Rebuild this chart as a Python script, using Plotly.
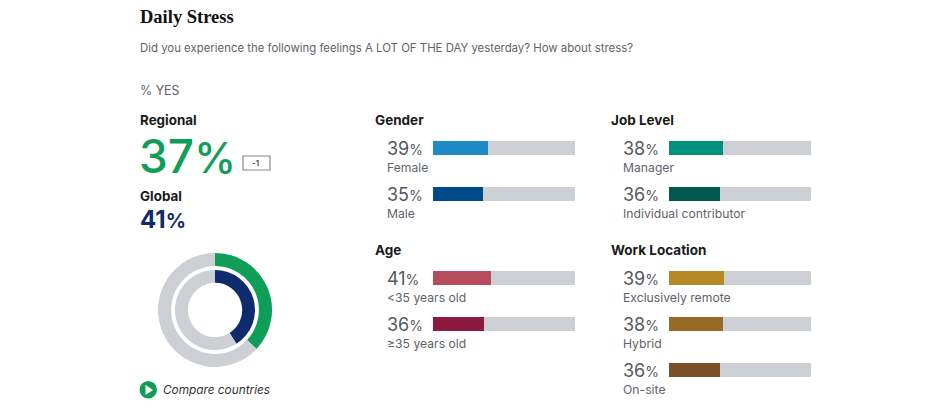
import plotly.graph_objects as go

W = 948
H = 409

# data
gender_labels = ["Female", "Male"]
gender_values = [39, 35]
gender_colors = ["#1f8ac6", "#004a8c"]

age_labels = ["<35 years old", "≥35 years old"]
age_values = [41, 36]
age_colors = ["#b84c5f", "#8c1a3e"]

job_labels = ["Manager", "Individual contributor"]
job_values = [38, 36]
job_colors = ["#00907f", "#00594f"]

work_labels = ["Exclusively remote", "Hybrid", "On-site"]
work_values = [39, 38, 36]
work_colors = ["#b58a26", "#966a24", "#7b4f28"]

regional_value = 37
regional_change = "-1"
global_value = 41

GREEN = "#0f9d58"
NAVY = "#0f2b6e"
TRACK = "#ccd0d4"
DARK = "#1a1a1a"
GREY = "#5f6368"
SANS = "Inter, Arial, sans-serif"
SERIF = "Liberation Serif"


def px(x):
    return x / W


def py(y):
    return 1 - y / H


fig = go.Figure()


def text(x, y, s, size, color=DARK, anchor="left", font=SANS, weight=None):
    fig.add_annotation(x=px(x), y=py(y), xref="paper", yref="paper", text=s, showarrow=False,
                       xanchor=anchor, yanchor="middle", align="left",
                       font=dict(size=size, color=color, family=font, weight=weight), borderpad=0, borderwidth=0)


def pct(v, size, small):
    return f'<span style="font-size:{size}px">{v}</span><span style="font-size:{small}px">%</span>'


def bar_group(n, title, labels, values, colors, left, top):
    # one small subplot per group, each row is 46px high
    xname = "x" if n == 1 else f"x{n}"
    yname = "y" if n == 1 else f"y{n}"
    fig.add_trace(go.Bar(x=[100] * len(labels), y=labels, orientation="h", marker=dict(color=TRACK, line_width=0),
                         width=0.31, xaxis=xname, yaxis=yname, showlegend=False))
    fig.add_trace(go.Bar(x=values, y=labels, orientation="h", marker=dict(color=colors, line_width=0),
                         width=0.31, xaxis=xname, yaxis=yname, showlegend=False))
    bottom = top + 46 * len(labels)
    fig.update_layout(**{
        f"xaxis{n}": dict(domain=[px(left + 58), px(left + 200)], range=[0, 100], visible=False, fixedrange=True,
                          anchor=yname),
        f"yaxis{n}": dict(domain=[py(bottom), py(top)], type="category", categoryorder="array",
                          categoryarray=labels[::-1], visible=False, fixedrange=True, anchor=xname),
    })
    text(left, top - 5, f"<b>{title}</b>", 13.5)
    for i, (lab, v) in enumerate(zip(labels, values)):
        center = top + 23 + 46 * i
        text(left + 12, center, pct(v, 18, 14), 18, "#55595e")
        text(left + 12, center + 19, lab, 12.2, GREY)


bar_group(1, "Gender", gender_labels, gender_values, gender_colors, 375, 125)
bar_group(2, "Age", age_labels, age_values, age_colors, 375, 255)
bar_group(3, "Job Level", job_labels, job_values, job_colors, 611, 125)
bar_group(4, "Work Location", work_labels, work_values, work_colors, 611, 255)

# rings
fig.add_trace(go.Pie(values=[regional_value, 100 - regional_value], hole=0.77, sort=False, direction="clockwise",
                     rotation=0, textinfo="none", showlegend=False, marker=dict(colors=[GREEN, TRACK], line_width=0),
                     domain=dict(x=[px(158), px(272)], y=[py(367), py(253)])))
fig.add_trace(go.Pie(values=[global_value, 100 - global_value], hole=0.68, sort=False, direction="clockwise",
                     rotation=0, textinfo="none", showlegend=False, marker=dict(colors=[NAVY, TRACK], line_width=0),
                     domain=dict(x=[px(175), px(255)], y=[py(350), py(270)])))

# left column text
text(140, 17, "<b>Daily Stress</b>", 18.5, "#111111", font=SERIF)
text(140, 48, "Did you experience the following feelings A LOT OF THE DAY yesterday? How about stress?", 11.4, GREY)
text(140, 90, "% YES", 12.4, GREY)
text(140, 119.5, "<b>Regional</b>", 13.4)
text(139, 156, pct(regional_value, 46, 42), 46, GREEN, weight=500)
text(140, 196, "<b>Global</b>", 13.4)
text(140, 219, f"<b>{pct(global_value, 24, 20)}</b>", 24, NAVY)
text(256, 163, regional_change, 8, "#444444", anchor="center", weight=600)
text(163, 390, "<i>Compare countries</i>", 11.8, "#333333")

# change box and the play button
fig.add_shape(type="rect", xref="paper", yref="paper", x0=px(243), x1=px(270), y0=py(170), y1=py(156),
              line=dict(color="#888888", width=1.2), fillcolor="white", layer="below")
fig.add_shape(type="circle", xref="paper", yref="paper", x0=px(139.5), x1=px(157), y0=py(398.5), y1=py(381),
              line_width=0, fillcolor=GREEN)
fig.add_shape(type="path", xref="paper", yref="paper", line_width=0, fillcolor="white",
              path=f"M {px(145.5)} {py(385)} L {px(153)} {py(390)} L {px(145.5)} {py(395)} Z")

fig.update_layout(width=W, height=H, margin=dict(l=0, r=0, t=0, b=0), barmode="overlay", bargap=0,
                  paper_bgcolor="white", plot_bgcolor="white", showlegend=False)

fig.write_html("out.html", config=dict(displayModeBar=False),
               post_script="document.body.style.margin='0';")
